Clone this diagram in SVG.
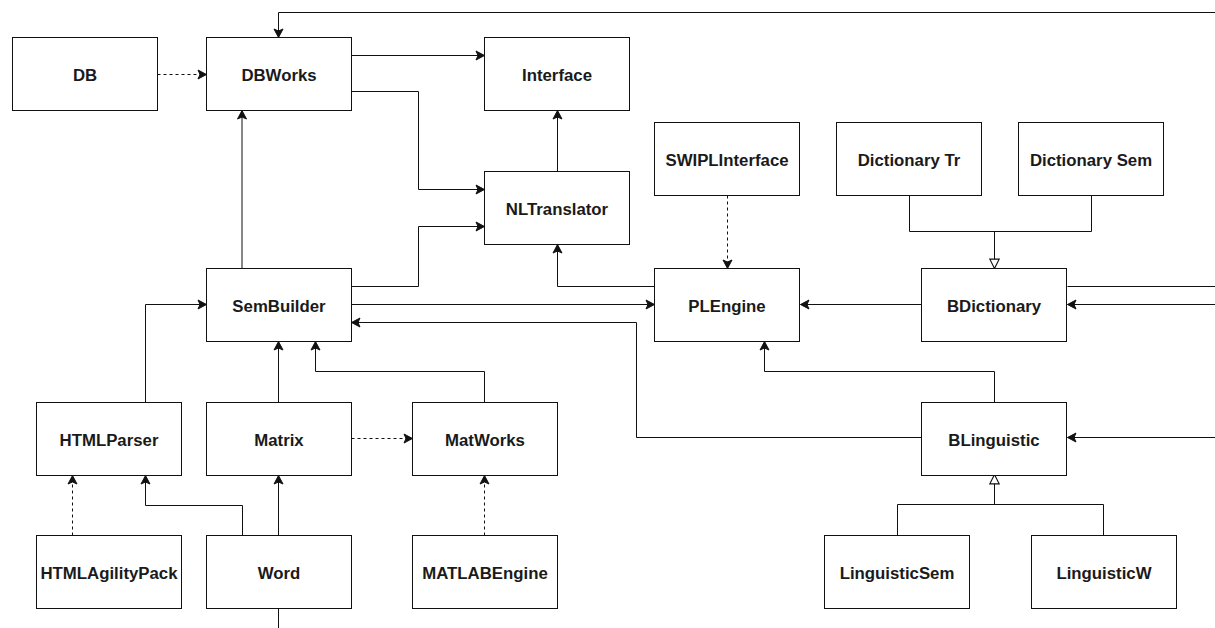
<svg xmlns="http://www.w3.org/2000/svg" width="1215" height="628" viewBox="0 0 1215 628">
  <defs>
    <style>
      .box rect { fill: #ffffff; stroke: #111; stroke-width: 1; }
      .box text { font-family: "Liberation Sans", Arial, Helvetica, sans-serif; font-size: 16.8px; font-weight: bold; fill: #1a1a1a; text-anchor: middle; }
      .edge { fill: none; stroke: #111; stroke-width: 1; }
      .dash { stroke-dasharray: 3 3; }
      .arr { marker-end: url(#arrow); }
      .inh { marker-end: url(#hollow); }
    </style>
    <marker id="arrow" markerUnits="userSpaceOnUse" markerWidth="12" markerHeight="12" viewBox="-10 -6 12 12" refX="0" refY="0" orient="auto">
      <path d="M0,0 L-8.5,-4.5 L-6.5,0 L-8.5,4.5 Z" fill="#111" stroke="#111" stroke-width="1" stroke-linejoin="miter"/>
    </marker>
    <marker id="hollow" markerUnits="userSpaceOnUse" markerWidth="14" markerHeight="14" viewBox="-10 -6 12 12" refX="0" refY="0" orient="auto">
      <path d="M0,0 L-8,-4 L-8,4 Z" fill="#ffffff" stroke="#111" stroke-width="1"/>
    </marker>
  </defs>

  <rect width="1215" height="628" fill="#ffffff"/>

  <!-- connectors -->
  <g id="connectors">
    <path class="edge arr" d="M1215,12.5 H278.5 V37.5"/>
    <path class="edge dash arr" d="M157.5,74.5 H206.5"/>
    <path class="edge arr" d="M351.5,55.5 H484.5"/>
    <path class="edge arr" d="M351.5,91.5 H418.5 V189.5 H484.5"/>
    <path class="edge arr" d="M557.5,171.5 V110.5"/>
    <path class="edge arr" d="M351.5,286.5 H418.5 V226.5 H484.5"/>
    <path class="edge arr" d="M242,268.5 V110.5"/>
    <path class="edge arr" d="M351.5,304.5 H654.5"/>
    <path class="edge arr" d="M921.5,437.5 H636.5 V322.5 H351.5"/>
    <path class="edge arr" d="M654.5,286.5 H557.5 V244.5"/>
    <path class="edge dash arr" d="M727.5,195.5 V268.5"/>
    <path class="edge arr" d="M921.5,304.5 H800.5"/>
    <path class="edge" d="M1067.5,286.5 H1215"/>
    <path class="edge arr" d="M1215,304.5 H1067.5"/>
    <path class="edge" d="M909.5,195.5 V231.5 H1091.5 V195.5"/>
    <path class="edge inh" d="M994.5,231.5 V268.5"/>
    <path class="edge arr" d="M994.5,402.5 V371.5 H764.5 V341.5"/>
    <path class="edge arr" d="M1215,437.5 H1067.5"/>
    <path class="edge" d="M897.5,535.5 V504.5 H1103.5 V535.5"/>
    <path class="edge inh" d="M994.5,504.5 V474.5"/>
    <path class="edge arr" d="M484.5,402.5 V371.5 H315.5 V341.5"/>
    <path class="edge arr" d="M278.5,402.5 V341.5"/>
    <path class="edge dash arr" d="M351.5,438.5 H412.5"/>
    <path class="edge dash arr" d="M484.5,535.5 V475.5"/>
    <path class="edge arr" d="M145.5,402.5 V304.5 H206.5"/>
    <path class="edge dash arr" d="M72.5,535.5 V475.5"/>
    <path class="edge arr" d="M242.5,535.5 V505.5 H145.5 V475.5"/>
    <path class="edge arr" d="M278.5,535.5 V475.5"/>
    <path class="edge" d="M278.5,608.5 V628"/>
  </g>

  <!-- nodes -->
  <g id="db" class="box"><rect x="12.5" y="37.5" width="145" height="73"/><text x="85" y="81">DB</text></g>
  <g id="dbworks" class="box"><rect x="206.5" y="37.5" width="145" height="73"/><text x="279" y="81">DBWorks</text></g>
  <g id="interface" class="box"><rect x="484.5" y="37.5" width="145" height="73"/><text x="557" y="81">Interface</text></g>
  <g id="nltranslator" class="box"><rect x="484.5" y="171.5" width="145" height="73"/><text x="557" y="215">NLTranslator</text></g>
  <g id="swiplinterface" class="box"><rect x="654.5" y="122.5" width="145" height="73"/><text x="727" y="166">SWIPLInterface</text></g>
  <g id="dictionarytr" class="box"><rect x="836.5" y="122.5" width="145" height="73"/><text x="909" y="166">Dictionary Tr</text></g>
  <g id="dictionarysem" class="box"><rect x="1018.5" y="122.5" width="145" height="73"/><text x="1091" y="166">Dictionary Sem</text></g>
  <g id="sembuilder" class="box"><rect x="206.5" y="268.5" width="145" height="73"/><text x="279" y="312">SemBuilder</text></g>
  <g id="plengine" class="box"><rect x="654.5" y="268.5" width="145" height="73"/><text x="727" y="312">PLEngine</text></g>
  <g id="bdictionary" class="box"><rect x="921.5" y="268.5" width="145" height="73"/><text x="994" y="312">BDictionary</text></g>
  <g id="htmlparser" class="box"><rect x="36.5" y="402.5" width="145" height="73"/><text x="109" y="446">HTMLParser</text></g>
  <g id="matrix" class="box"><rect x="206.5" y="402.5" width="145" height="73"/><text x="279" y="446">Matrix</text></g>
  <g id="matworks" class="box"><rect x="412.5" y="402.5" width="145" height="73"/><text x="485" y="446">MatWorks</text></g>
  <g id="blinguistic" class="box"><rect x="921.5" y="402.5" width="145" height="73"/><text x="994" y="446">BLinguistic</text></g>
  <g id="htmlagilitypack" class="box"><rect x="36.5" y="535.5" width="145" height="73"/><text x="109" y="579">HTMLAgilityPack</text></g>
  <g id="word" class="box"><rect x="206.5" y="535.5" width="145" height="73"/><text x="279" y="579">Word</text></g>
  <g id="matlabengine" class="box"><rect x="412.5" y="535.5" width="145" height="73"/><text x="485" y="579">MATLABEngine</text></g>
  <g id="linguisticsem" class="box"><rect x="824.5" y="535.5" width="145" height="73"/><text x="897" y="579">LinguisticSem</text></g>
  <g id="linguisticw" class="box"><rect x="1031.5" y="535.5" width="145" height="73"/><text x="1104" y="579">LinguisticW</text></g>
</svg>
